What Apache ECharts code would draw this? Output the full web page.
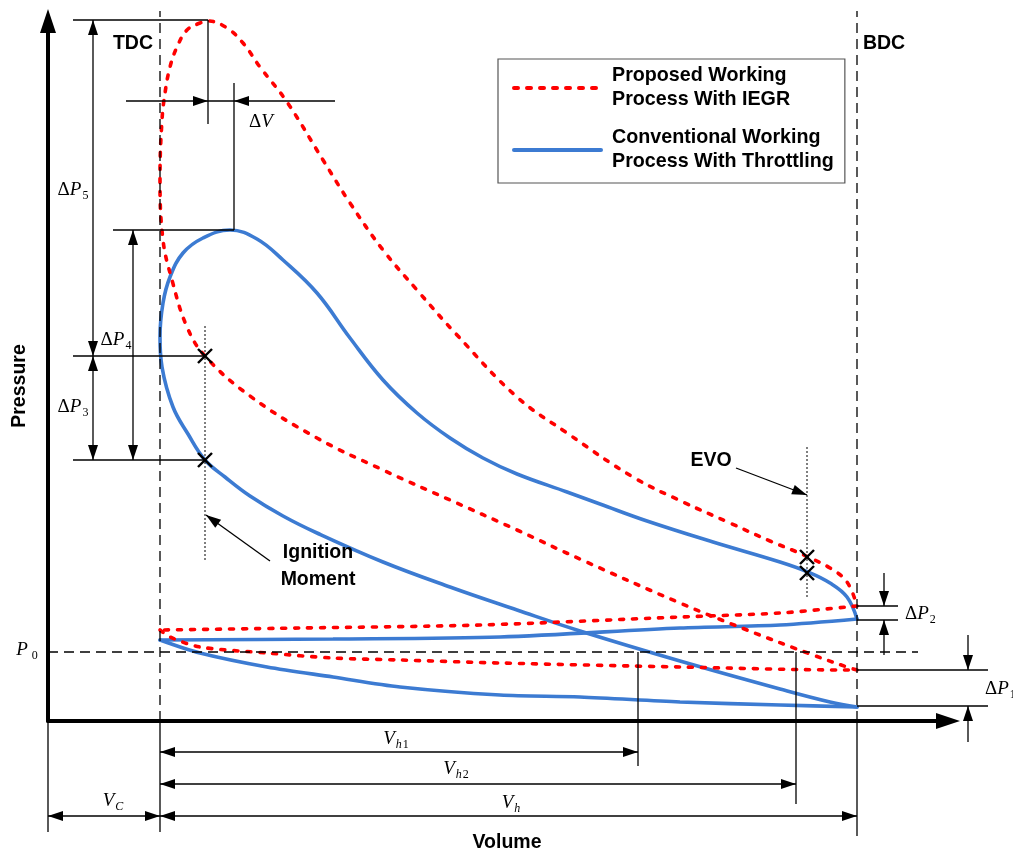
<!DOCTYPE html>
<html>
<head>
<meta charset="utf-8">
<title>P-V diagram</title>
<script src="https://cdn.jsdelivr.net/npm/echarts@6/dist/echarts.min.js"></script>
<style>
  html, body { margin: 0; padding: 0; background: #fff; }
  #chart { width: 1013px; height: 853px; }
</style>
</head>
<body>
<div id="chart"></div>
<script>
// volume / pressure in arbitrary units
var names = ['Proposed Working Process With IEGR', 'Conventional Working Process With Throttling']
var legendText = {
  'Proposed Working Process With IEGR': 'Proposed Working\nProcess With IEGR',
  'Conventional Working Process With Throttling': 'Conventional Working\nProcess With Throttling'
}

// proposed (IEGR): compression -> combustion -> expansion -> blowdown
var redMain = [
  [80.9, 5.1], [79.9, 5.4], [76.5, 6.6], [69.9, 9.1], [63.2, 11.8], [53.4, 16.1],
  [46.9, 19.1], [40.2, 22.1], [33.5, 25.1], [26.9, 28.3], [20.2, 32.5], [15.7, 36.5],
  [13.9, 39.4], [12.4, 44.1], [11.5, 48.1], [11.2, 54.4], [11.4, 60.1], [11.7, 62.8],
  [12.2, 65.4], [12.9, 67.4], [13.9, 69.1], [15.2, 69.8], [16.0, 70.0], [17.9, 69.3],
  [19.5, 67.8], [21.2, 65.4], [23.9, 61.9], [27.5, 56.1], [30.2, 51.8], [33.5, 47.1],
  [36.9, 43.1], [40.9, 38.6], [46.9, 32.4], [51.9, 28.8], [58.5, 24.4], [63.5, 21.9],
  [68.2, 19.8], [72.2, 18.0], [74.9, 16.9], [76.0, 16.4], [78.2, 15.3], [79.9, 13.9], [80.9, 11.5]
]
var redExhaust = [[80.9, 11.5], [79.9, 11.4], [73.2, 10.8], [63.2, 10.4], [43.2, 9.6], [25.2, 9.3], [11.2, 9.1]]
var redIntake = [
  [11.2, 9.1], [12.2, 8.4], [15.2, 7.4], [21.9, 6.8], [28.5, 6.3], [35.2, 6.1],
  [45.2, 5.8], [63.2, 5.4], [79.9, 5.1], [80.9, 5.1]
]

// conventional (throttling)
var blueMain = [
  [80.9, 1.4], [78.2, 1.9], [73.2, 3.2], [63.2, 6.0], [53.2, 9.0], [46.9, 11.1],
  [40.2, 13.4], [33.5, 15.9], [26.9, 18.8], [23.5, 20.5], [20.2, 22.5], [17.7, 24.4],
  [15.7, 26.1], [14.0, 28.7], [12.5, 31.4], [11.4, 35.4], [11.2, 38.4], [11.5, 41.8],
  [12.2, 44.4], [13.5, 46.8], [15.5, 48.3], [18.2, 49.1], [20.9, 48.2], [23.5, 46.1],
  [26.9, 42.8], [30.2, 38.3], [33.5, 34.1], [36.9, 30.8], [40.2, 28.3], [43.5, 26.3],
  [46.9, 24.7], [51.9, 22.9], [55.2, 21.7], [59.9, 20.0], [66.5, 17.9], [73.2, 15.9],
  [76.0, 14.9], [78.2, 13.8], [79.9, 12.4], [80.9, 10.2]
]
var blueExhaust = [[80.9, 10.2], [73.2, 9.6], [63.2, 9.3], [45.2, 8.4], [28.5, 8.2], [11.2, 8.1]]
var blueIntake = [
  [11.2, 8.1], [15.2, 6.8], [21.9, 5.4], [28.5, 4.4], [35.2, 3.4], [45.2, 2.6],
  [53.2, 2.4], [63.2, 1.9], [73.2, 1.6], [80.9, 1.4]
]

var ignitionMarks = [[15.7, 36.5], [15.7, 26.1]]
var evoMarks = [[75.9, 16.4], [75.9, 14.8]]

// reference volumes / pressures
var V_TDC = 11.2
var V_BDC = 80.9
var V_H1 = 59.0
var V_H2 = 74.8
var V_IGN = 15.7
var V_EVO = 75.9
var P0 = 6.9
var P_RED_PEAK = 70.1
var V_RED_PEAK = 16.0
var P_BLUE_PEAK = 49.1
var V_BLUE_EDGE = 18.6
var P_RED_TOP = 11.5
var P_BLUE_TOP = 10.1
var P_RED_LOW = 5.1
var P_BLUE_LOW = 1.5

var RED = '#ff0000'
var BLUE = '#3c7bd2'
var SANS = 'Liberation Sans'
var SERIF = 'Liberation Serif'

var MATH_RICH = {
  d: { fontFamily: SERIF, fontSize: 19, verticalAlign: 'top' },
  i: { fontFamily: SERIF, fontStyle: 'italic', fontSize: 19, verticalAlign: 'top' },
  s: { fontFamily: SERIF, fontSize: 12, verticalAlign: 'top', padding: [9, 0, 0, 1] },
  si: { fontFamily: SERIF, fontStyle: 'italic', fontSize: 12, verticalAlign: 'top', padding: [9, 0, 0, 1] }
}

function renderNotes (params, api) {
  var kids = []
  function c (v, p) { return api.coord([v, p]) }
  function seg (a, b, dash, w) {
    kids.push({
      type: 'line',
      shape: { x1: a[0], y1: a[1], x2: b[0], y2: b[1] },
      style: { stroke: '#000', lineWidth: w || 1.3, lineDash: dash || null }
    })
  }
  function head (tip, from) {
    var dx = tip[0] - from[0]
    var dy = tip[1] - from[1]
    var len = Math.sqrt(dx * dx + dy * dy)
    dx /= len
    dy /= len
    var bx = tip[0] - dx * 15
    var by = tip[1] - dy * 15
    kids.push({
      type: 'polygon',
      shape: { points: [tip, [bx - dy * 5, by + dx * 5], [bx + dy * 5, by - dx * 5]] },
      style: { fill: '#000' }
    })
  }
  function arrow (from, to) { seg(from, to); head(to, from) }
  function dim (a, b) { seg(a, b); head(a, b); head(b, a) }
  function cross (pt) {
    var q = c(pt[0], pt[1])
    seg([q[0] - 7, q[1] - 7], [q[0] + 7, q[1] + 7], null, 2.4)
    seg([q[0] - 7, q[1] + 7], [q[0] + 7, q[1] - 7], null, 2.4)
  }
  function word (v, p, text, rot) {
    var q = c(v, p)
    kids.push({
      type: 'text', x: q[0], y: q[1], rotation: rot || 0,
      style: {
        text: text, fill: '#000', fontFamily: SANS, fontWeight: 'bold', fontSize: 19.5,
        align: 'center', verticalAlign: 'middle', textAlign: 'center', textVerticalAlign: 'middle'
      }
    })
  }
  function math (v, p, text, align) {
    var q = c(v, p)
    kids.push({
      type: 'text', x: q[0], y: q[1],
      style: {
        text: text, rich: MATH_RICH, fill: '#000', fontFamily: SERIF, fontSize: 19,
        align: align || 'center', verticalAlign: 'middle',
        textAlign: align || 'center', textVerticalAlign: 'middle'
      }
    })
  }

  var dash = [10, 6]
  // TDC / BDC
  seg(c(V_TDC, 0), c(V_TDC, 71), dash)
  seg(c(V_TDC, 0), c(V_TDC, -11.1))
  seg(c(V_BDC, 0), c(V_BDC, 71), dash)
  seg(c(V_BDC, 0), c(V_BDC, -11.5))
  seg(c(0, 0), c(0, -11.1))
  // ambient pressure
  seg(c(0, P0), c(87, P0), dash)

  // swept volumes
  seg(c(V_H1, P0), c(V_H1, -4.5))
  seg(c(V_H2, P0), c(V_H2, -8.3))
  dim(c(V_TDC, -3.1), c(V_H1, -3.1))
  dim(c(V_TDC, -6.3), c(V_H2, -6.3))
  dim(c(V_TDC, -9.5), c(V_BDC, -9.5))
  dim(c(0, -9.5), c(V_TDC, -9.5))

  // peak pressures and delta V
  seg(c(2.5, P_RED_PEAK), c(V_RED_PEAK, P_RED_PEAK))
  seg(c(V_RED_PEAK, P_RED_PEAK), c(V_RED_PEAK, 59.7))
  seg(c(6.5, P_BLUE_PEAK), c(V_BLUE_EDGE, P_BLUE_PEAK))
  seg(c(V_BLUE_EDGE, 63.8), c(V_BLUE_EDGE, P_BLUE_PEAK))
  seg(c(7.8, 62.0), c(28.7, 62.0))
  head(c(V_RED_PEAK, 62.0), c(7.8, 62.0))
  head(c(V_BLUE_EDGE, 62.0), c(28.7, 62.0))
  seg(c(2.5, ignitionMarks[0][1]), c(V_IGN, ignitionMarks[0][1]))
  seg(c(2.5, ignitionMarks[1][1]), c(V_IGN, ignitionMarks[1][1]))
  dim(c(4.5, P_RED_PEAK), c(4.5, ignitionMarks[0][1]))
  dim(c(4.5, ignitionMarks[0][1]), c(4.5, ignitionMarks[1][1]))
  dim(c(8.5, P_BLUE_PEAK), c(8.5, ignitionMarks[1][1]))

  // pressures at BDC
  seg(c(V_BDC, P_RED_TOP), c(85.0, P_RED_TOP))
  seg(c(V_BDC, P_BLUE_TOP), c(85.0, P_BLUE_TOP))
  seg(c(V_BDC, P_RED_LOW), c(94.0, P_RED_LOW))
  seg(c(V_BDC, P_BLUE_LOW), c(94.0, P_BLUE_LOW))
  arrow(c(83.6, 14.8), c(83.6, P_RED_TOP))
  arrow(c(83.6, 6.6), c(83.6, P_BLUE_TOP))
  arrow(c(92.0, 8.6), c(92.0, P_RED_LOW))
  arrow(c(92.0, -2.1), c(92.0, P_BLUE_LOW))

  // ignition / EVO
  seg(c(V_IGN, 39.5), c(V_IGN, 15.9), [2, 2], 1)
  seg(c(V_EVO, 27.4), c(V_EVO, 12.3), [2, 2], 1)
  arrow(c(22.2, 16.0), c(15.8, 20.6))
  arrow(c(68.8, 25.3), c(75.9, 22.6))
  ignitionMarks.forEach(cross)
  evoMarks.forEach(cross)

  // words
  word(8.5, 67.7, 'TDC')
  word(83.6, 67.7, 'BDC')
  word(66.3, 26.0, 'EVO')
  word(27.0, 16.8, 'Ignition')
  word(27.0, 14.1, 'Moment')
  word(-2.8, 33.5, 'Pressure', Math.PI / 2)
  word(45.9, -12.2, 'Volume')

  math(-2.1, 7.0, '{i|P}{s| 0}')
  math(2.5, 53.0, '{d|Δ}{i|P}{s|5}')
  math(6.8, 38.0, '{d|Δ}{i|P}{s|4}')
  math(2.5, 31.3, '{d|Δ}{i|P}{s|3}')
  math(21.3, 59.9, '{d|Δ}{i|V}')
  math(85.7, 10.6, '{d|Δ}{i|P}{s|2}', 'left')
  math(93.7, 3.1, '{d|Δ}{i|P}{s|1}', 'left')
  math(34.8, -1.9, '{i|V}{si|h}{s|1}')
  math(40.8, -4.9, '{i|V}{si|h}{s|2}')
  math(46.3, -8.3, '{i|V}{si|h}')
  math(6.5, -8.1, '{i|V}{si|C}')

  return { type: 'group', children: kids }
}

function lineSeries (name, data, color, type, smooth) {
  return {
    name: name,
    type: 'line',
    data: data,
    smooth: smooth,
    clip: false,
    symbol: 'none',
    showSymbol: false,
    lineStyle: { color: color, width: 3.6, type: type, cap: 'round' },
    itemStyle: { color: color },
    z: color === RED ? 4 : 3
  }
}

var chart = echarts.init(document.getElementById('chart'))
chart.setOption({
  animation: false,
  backgroundColor: '#fff',
  grid: { left: 48, right: 65, top: 21, bottom: 132, containLabel: false, outerBoundsMode: 'none' },
  xAxis: {
    type: 'value', min: 0, max: 90,
    axisLine: { show: true, onZero: false, symbol: ['none', 'triangle'], symbolSize: [16, 24], lineStyle: { color: '#000', width: 4 } },
    axisTick: { show: false }, axisLabel: { show: false }, splitLine: { show: false }
  },
  yAxis: {
    type: 'value', min: 0, max: 70,
    axisLine: { show: true, onZero: false, symbol: ['none', 'triangle'], symbolSize: [16, 24], lineStyle: { color: '#000', width: 4 } },
    axisTick: { show: false }, axisLabel: { show: false }, splitLine: { show: false }
  },
  legend: {
    data: names,
    orient: 'vertical',
    left: 498,
    top: 59,
    itemWidth: 87,
    itemHeight: 14,
    itemGap: 14,
    padding: [5, 11, 9, 14],
    borderColor: '#555',
    borderWidth: 1.2,
    selectedMode: false,
    itemStyle: { opacity: 0 },
    lineStyle: { width: 4, cap: 'round' },
    formatter: function (n) { return legendText[n] },
    textStyle: { fontFamily: SANS, fontWeight: 'bold', fontSize: 19.7, lineHeight: 24, color: '#000', padding: [0, 0, 0, 6] }
  },
  series: [
    lineSeries(names[1], blueMain, BLUE, 'solid', 0.4),
    lineSeries(names[1], blueExhaust, BLUE, 'solid', 0.3),
    lineSeries(names[1], blueIntake, BLUE, 'solid', 0.3),
    lineSeries(names[0], redMain, RED, [4, 9], 0.4),
    lineSeries(names[0], redExhaust, RED, [4, 9], 0.3),
    lineSeries(names[0], redIntake, RED, [4, 9], 0.3),
    {
      type: 'custom',
      coordinateSystem: 'cartesian2d',
      silent: true,
      z: 6,
      data: [[0, 0]],
      renderItem: renderNotes
    }
  ]
})
</script>
</body>
</html>
